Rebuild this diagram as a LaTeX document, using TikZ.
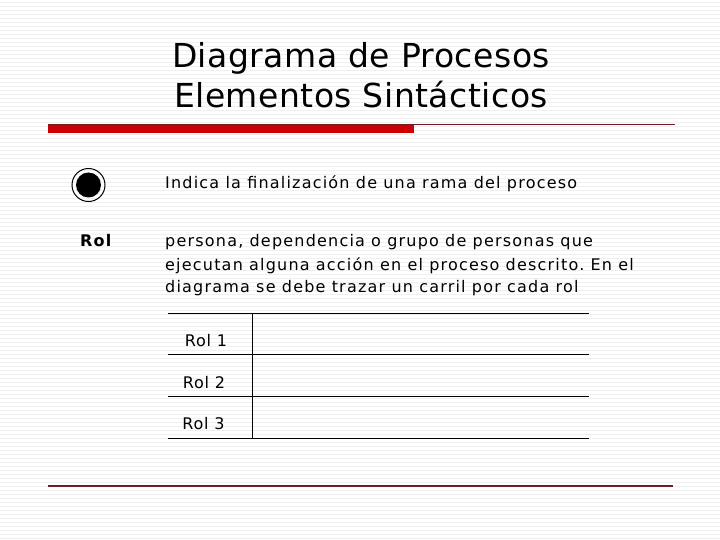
\documentclass[tikz,border=0pt]{standalone}
\usepackage{fontspec}
\setmainfont{DejaVu Sans}
\newfontfamily\bodyfont{DejaVu Sans}[LetterSpace=7.5]
\newfontfamily\lanefont{DejaVu Sans}[LetterSpace=5]
\newfontfamily\titlefont{DejaVu Sans}[LetterSpace=1.5]
\definecolor{barred}{RGB}{204,0,0}
\definecolor{darkred}{RGB}{110,30,40}
\tikzset{
  txt/.style={anchor=base west, inner sep=0pt, font=\bodyfont\fontsize{16}{19}\selectfont},
  lanetxt/.style={anchor=base, inner sep=0pt, font=\lanefont\fontsize{16}{19}\selectfont},
  title/.style={anchor=base, inner sep=0pt, font=\titlefont\fontsize{33}{40}\selectfont},
  lane/.style={line width=1pt, black}
}
\begin{document}
\frenchspacing
\begin{tikzpicture}[x=1pt,y=-1pt]
\useasboundingbox (0,0) rectangle (720,540);
\fill[white] (0,0) rectangle (720,540);
\foreach \k in {2,6,...,538} \draw[black!6, line width=0.8pt] (0,\k) -- (720,\k);
% title
\node[title] (t1) at (361,68) {Diagrama de Procesos};
\node[title] (t2) at (361,108) {Elementos Sintácticos};
% header bar
\fill[barred] (48,124) rectangle (414,133);
\draw[darkred, line width=0.6pt] (48,124) -- (414,124);
\draw[darkred, line width=1.2pt] (414,124.5) -- (675,124.5);
% end node
\node[circle, draw=black, line width=1pt, minimum size=33pt, inner sep=0pt] (endo) at (88.5,185) {};
\node[circle, fill=black, minimum size=25pt, inner sep=0pt] (endi) at (endo.center) {};
\node[txt] (d1) at (165,188.5) {Indica la finalización de una rama del proceso};
% rol
\node[txt, font=\bodyfont\fontsize{16}{19}\selectfont\bfseries] (rol) at (80,247) {Rol};
\node[txt] (p1) at (165,247) {persona, dependencia o grupo de personas que};
\node[txt] (p2) at (165,270) {ejecutan alguna acción en el proceso descrito. En el};
\node[txt] (p3) at (165,292) {diagrama se debe trazar un carril por cada rol};
% swimlanes
\coordinate (a0) at (168,313);
\coordinate (b0) at (589,313);
\coordinate (a1) at (168,354.5);
\coordinate (b1) at (589,354.5);
\coordinate (a2) at (168,396);
\coordinate (b2) at (589,396);
\coordinate (a3) at (168,438);
\coordinate (b3) at (589,438);
\coordinate (v0) at (252.5,313);
\coordinate (v1) at (252.5,438);
\draw[lane] (a0) -- (b0);
\draw[lane] (a1) -- (b1);
\draw[lane] (a2) -- (b2);
\draw[lane] (a3) -- (b3);
\draw[lane] (v0) -- (v1);
\node[lanetxt] (r1) at (206,346) {Rol 1};
\node[lanetxt] (r2) at (204,388) {Rol 2};
\node[lanetxt] (r3) at (203.5,429) {Rol 3};
% bottom line
\draw[darkred, line width=1.2pt] (48,486) -- (673,486);
\end{tikzpicture}
\end{document}
